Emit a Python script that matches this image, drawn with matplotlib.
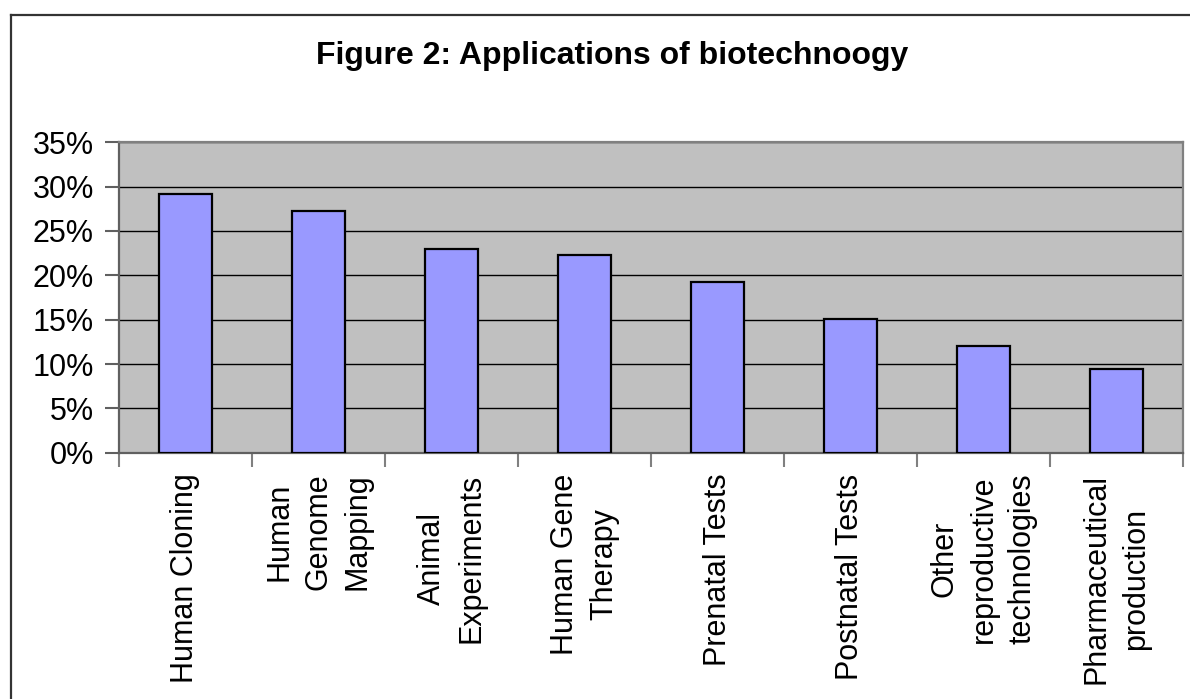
import matplotlib
matplotlib.use('Agg')
import matplotlib.pyplot as plt
import matplotlib.ticker as mtick
from matplotlib.lines import Line2D
import numpy as np

plt.rcParams.update({'font.family': ['Liberation Sans', 'DejaVu Sans']})

# Data
categories = ['Human Cloning', 'Human\nGenome\nMapping', 'Animal\nExperiments',
              'Human Gene\nTherapy', 'Prenatal Tests', 'Postnatal Tests',
              'Other\nreproductive\ntechnologies', 'Pharmaceutical\nproduction']
shares = [0.292, 0.2725, 0.2295, 0.223, 0.193, 0.151, 0.120, 0.0947]
y_ticks = [0, 0.05, 0.10, 0.15, 0.20, 0.25, 0.30, 0.35]

W, H = 1190, 699
fig = plt.figure(figsize=(W / 100, H / 100), dpi=100)
fig.patch.set_facecolor('white')

# outer chart frame (only top and left edges are visible in the crop)
fx, fy = 11 / W, 1 - 15 / H
fig.add_artist(Line2D([fx, fx], [0, fy], transform=fig.transFigure, color='#333333', lw=1.6))
fig.add_artist(Line2D([fx, 1], [fy, fy], transform=fig.transFigure, color='#333333', lw=1.6))

ax = fig.add_axes([119 / W, 1 - 452.7 / H, 1064 / W, 310.4 / H])
ax.set_facecolor('#C0C0C0')

x = np.arange(len(categories))
ax.bar(x, shares, width=0.4, color='#9999FF', edgecolor='black', linewidth=1.6, zorder=3)

ax.set_xlim(-0.5, len(categories) - 0.5)
ax.set_ylim(0, 0.35)
ax.set_yticks(y_ticks)
ax.yaxis.set_major_formatter(mtick.PercentFormatter(1.0, decimals=0))
ax.yaxis.grid(True, color='black', linewidth=1.0, zorder=1)
ax.set_axisbelow(True)

# category labels centred on the bars, ticks on the boundaries
ax.set_xticks(x)
ax.set_xticklabels(categories, rotation=90, ha='center', va='top',
                   multialignment='center', linespacing=1.4)
ax.set_xticks(np.arange(-0.5, len(categories)), minor=True)
ax.tick_params(axis='x', which='major', length=0, pad=15, labelsize=22)
ax.tick_params(axis='x', which='minor', length=10, width=1.5, color='#808080', direction='out')
ax.tick_params(axis='y', length=10, width=1.5, color='#606060', pad=8, labelsize=22)

for side in ['top', 'right']:
    ax.spines[side].set_color('#808080')
    ax.spines[side].set_linewidth(1.6)
for side in ['left', 'bottom']:
    ax.spines[side].set_color('#606060')
    ax.spines[side].set_linewidth(1.6)

fig.text(612 / W, 1 - 56 / H, 'Figure 2: Applications of biotechnoogy',
         ha='center', va='center', fontsize=23, fontweight='bold')

fig.savefig('out.png', dpi=100)
